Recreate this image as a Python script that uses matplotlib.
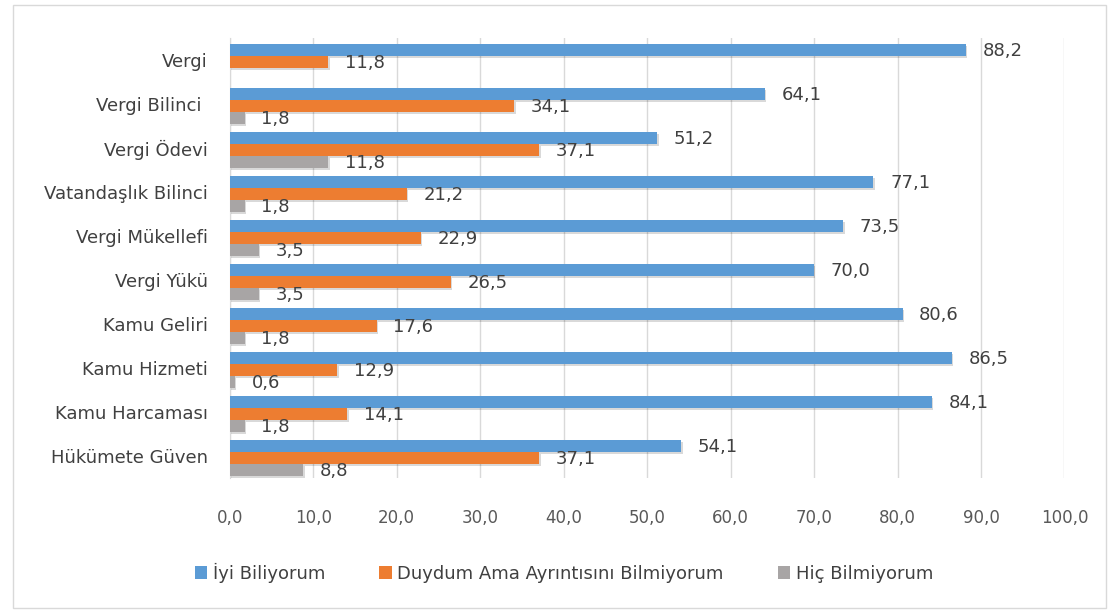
import matplotlib
matplotlib.use("Agg")
import matplotlib.pyplot as plt
import matplotlib.patheffects as pe
import numpy as np

categories = ["Vergi", "Vergi Bilinci ", "Vergi Ödevi", "Vatandaşlık Bilinci", "Vergi Mükellefi",
              "Vergi Yükü", "Kamu Geliri", "Kamu Hizmeti", "Kamu Harcaması", "Hükümete Güven"]
iyi = [88.2, 64.1, 51.2, 77.1, 73.5, 70.0, 80.6, 86.5, 84.1, 54.1]
duydum = [11.8, 34.1, 37.1, 21.2, 22.9, 26.5, 17.6, 12.9, 14.1, 37.1]
hic = [np.nan, 1.8, 11.8, 1.8, 3.5, 3.5, 1.8, 0.6, 1.8, 8.8]
series_names = ["İyi Biliyorum", "Duydum Ama Ayrıntısını Bilmiyorum", "Hiç Bilmiyorum"]
xticks = np.arange(0, 101, 10)

colors = ["#5B9BD5", "#ED7D31", "#A8A5A5"]
plt.rcParams["font.family"] = ["Liberation Sans Narrow", "DejaVu Sans"]
text_color = "#404040"

fig = plt.figure(figsize=(11.1, 6.14), dpi=100)
ax = fig.add_axes([0.207, 0.2215, 0.752, 0.7165])

y = np.arange(len(categories))
h = 0.275
shadow = [pe.SimplePatchShadow(offset=(1, -1.5), shadow_rgbFace="#000000", alpha=0.15), pe.Normal()]
for i, (vals, name) in enumerate(zip([iyi, duydum, hic], series_names)):
    pos = y + (i - 1) * h + 0.04
    ax.barh(pos, np.nan_to_num(vals), height=h, color=colors[i], label=name,
            zorder=3, path_effects=shadow)
    for p, v in zip(pos, vals):
        if np.isnan(v):
            continue
        ax.text(v + 2.0, p + 0.02, f"{v:.1f}".replace(".", ","), va="center", ha="left",
                fontsize=13, color=text_color)

ax.set_xlim(0, 100)
ax.set_ylim(len(categories) - 0.5, -0.5)
ax.set_xticks(xticks)
ax.set_xticklabels([f"{t:.1f}".replace(".", ",") for t in xticks], fontsize=12, color="#595959")
ax.set_yticks(y)
ax.set_yticklabels(categories, fontsize=13, color=text_color)
ax.tick_params(axis="both", length=0)
ax.tick_params(axis="x", pad=22)
ax.tick_params(axis="y", pad=16)
ax.grid(True, axis="x", color="#D9D9D9", linewidth=1, zorder=0)
for s in ["top", "right", "bottom"]:
    ax.spines[s].set_visible(False)
ax.spines["left"].set_color("#D9D9D9")

leg = fig.legend(loc="center", bbox_to_anchor=(0.508, 0.067), ncol=3, frameon=False,
                 fontsize=13, handlelength=0.7, handleheight=0.7, handletextpad=0.3,
                 columnspacing=3.0, labelcolor=text_color)
for handle in leg.legend_handles:
    handle.set_path_effects([])

# light frame around the chart area
fig.patches.append(plt.Rectangle((0.012, 0.01), 0.984, 0.982, transform=fig.transFigure,
                                 fill=False, edgecolor="#D9D9D9", linewidth=1))

fig.savefig("out.png", dpi=100)
